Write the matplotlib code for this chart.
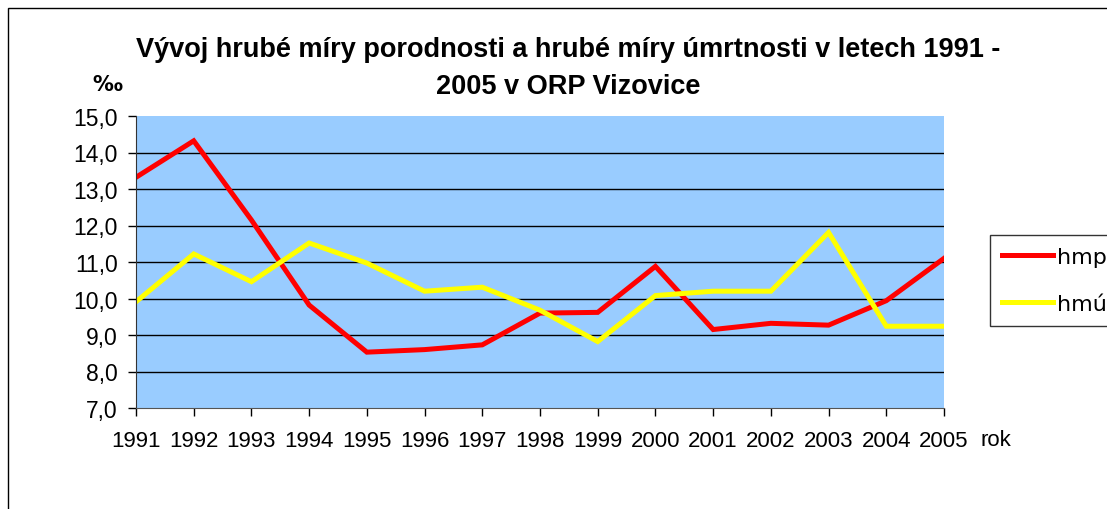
import matplotlib.pyplot as plt
from matplotlib.patches import Rectangle

plt.rcParams['font.family'] = ['Liberation Sans', 'DejaVu Sans']

# data (per mille)
years = list(range(1991, 2006))
hmp = [13.32, 14.32, 12.15, 9.82, 8.53, 8.60, 8.73, 9.60, 9.62, 10.88,
       9.15, 9.32, 9.27, 9.94, 11.10]
hmu = [9.91, 11.22, 10.46, 11.52, 10.97, 10.20, 10.31, 9.68, 8.82, 10.08,
       10.20, 10.20, 11.81, 9.24, 9.24]
yticks = [7, 8, 9, 10, 11, 12, 13, 14, 15]

fig = plt.figure(figsize=(11.07, 5.10), dpi=100)
fig.patch.set_facecolor('white')

# outer chart frame (runs off right and bottom edge like in the source)
fig.patches.append(Rectangle((8 / 1107, -0.1), 1.2, 1 - 9 / 510 + 0.1,
                             transform=fig.transFigure, fill=False,
                             edgecolor='black', linewidth=1.0))

ax = fig.add_axes([136 / 1107, 1 - 409 / 510, (944 - 136) / 1107, (409 - 117) / 510])
ax.set_facecolor('#99CCFF')

ax.plot(years, hmp, color='#FF0000', linewidth=3.6, label='hmp', solid_joinstyle='miter')
ax.plot(years, hmu, color='#FFFF00', linewidth=3.6, label='hmú', solid_joinstyle='miter')

ax.set_xlim(1991, 2005)
ax.set_ylim(7, 15)
ax.set_xticks(years)
ax.set_xticklabels([str(y) for y in years], fontsize=16)
ax.set_yticks(yticks)
ax.set_yticklabels(['%d,0' % v for v in yticks], fontsize=16.5)
ax.tick_params(axis='both', direction='out', length=6, width=1, colors='black')
ax.tick_params(axis='y', pad=7)
ax.tick_params(axis='x', pad=10)

for v in yticks[1:-1]:
    ax.axhline(v, color='black', linewidth=1.0, zorder=1)

for side in ['top', 'right']:
    ax.spines[side].set_visible(False)
ax.spines['left'].set_color('#333333')
ax.spines['bottom'].set_color('#555555')

fig.text(568 / 1107, 1 - 50 / 510, 'Vývoj hrubé míry porodnosti a hrubé míry úmrtnosti v letech 1991 -',
         ha='center', va='center', fontsize=19.5, fontweight='bold')
fig.text(568 / 1107, 1 - 87 / 510, '2005 v ORP Vizovice',
         ha='center', va='center', fontsize=19.5, fontweight='bold')
fig.text(107 / 1107, 1 - 85 / 510, '‰', ha='center', va='center', fontsize=15,
         fontweight='bold', family=['DejaVu Sans'])
fig.text(980 / 1107, 1 - 440 / 510, 'rok', ha='left', va='center', fontsize=16)

leg = fig.legend(loc='upper left', bbox_to_anchor=(990 / 1107, 1 - 236 / 510),
                 prop={'family': 'DejaVu Sans', 'size': 16},
                 frameon=True, fancybox=False, handlelength=2.3,
                 handletextpad=0.15, labelspacing=1.2, borderpad=0.55,
                 borderaxespad=0)
leg.get_frame().set_edgecolor('black')
leg.get_frame().set_linewidth(1.0)

fig.savefig('out.png', dpi=100)
